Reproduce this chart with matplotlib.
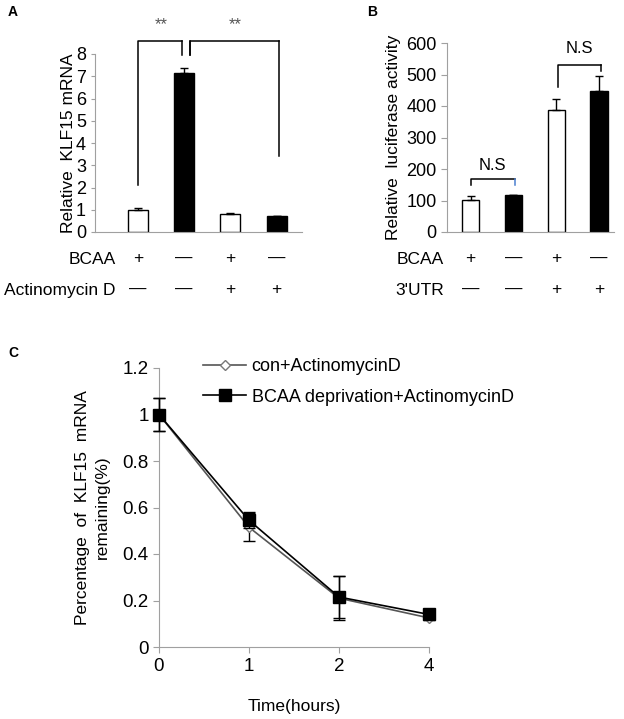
import matplotlib
matplotlib.use("Agg")
import matplotlib.pyplot as plt
from matplotlib.lines import Line2D
import numpy as np

plt.rcParams['font.family'] = ['Liberation Sans', 'DejaVu Sans']

# ---- data ----
a_vals = [1.0, 7.15, 0.82, 0.70]
a_err = [0.09, 0.2, 0.04, 0.0]
a_fill = ['white', 'black', 'white', 'black']
a_row1 = ['+', '—', '+', '—']
a_row2 = ['—', '—', '+', '+']
a_yticks = [0, 1, 2, 3, 4, 5, 6, 7, 8]

b_vals = [103, 117, 388, 448]
b_err = [12, 0, 35, 48]
b_fill = ['white', 'black', 'white', 'black']
b_row1 = ['+', '—', '+', '—']
b_row2 = ['—', '—', '+', '+']
b_yticks = [0, 100, 200, 300, 400, 500, 600]

c_time_labels = ['0', '1', '2', '4']
c_con = [1.0, 0.515, 0.21, 0.125]
c_con_err = [0.07, 0.06, 0.095, 0.01]
c_bcaa = [1.0, 0.545, 0.215, 0.14]
c_bcaa_err = [0.07, 0.035, 0.09, 0.01]
c_yticks = [0, 0.2, 0.4, 0.6, 0.8, 1.0, 1.2]
c_yticklabels = ['0', '0.2', '0.4', '0.6', '0.8', '1', '1.2']

W, H = 624, 719
fig = plt.figure(figsize=(W / 100, H / 100), dpi=100)

def ax_px(l, r, b, t):
    return fig.add_axes([l / W, (H - b) / H, (r - l) / W, (b - t) / H])

FS = 12.5
grey = '#a0a0a0'

def style_bar_axes(ax):
    for s in ['top', 'right']:
        ax.spines[s].set_visible(False)
    ax.spines['left'].set_color(grey)
    ax.spines['bottom'].set_color(grey)
    ax.tick_params(axis='y', colors=grey, labelcolor='black', labelsize=FS + 0.5, length=3, direction='out')
    ax.tick_params(axis='x', length=0, labelbottom=False)

def bracket(ax, x1, x2, y, y1, y2, color='black', c2=None):
    ax.plot([x1, x1, x2], [y1, y, y], color=color, lw=1.1, clip_on=False)
    ax.plot([x2, x2], [y, y2], color=c2 if c2 else color, lw=1.1, clip_on=False)

# ---- Panel A ----
axA = ax_px(95, 302, 232, 54)
xa = np.arange(len(a_vals))
axA.bar(xa, a_vals, width=0.43, color=a_fill, edgecolor='black', linewidth=1.0,
        yerr=[[0] * 4, a_err], capsize=3, error_kw=dict(elinewidth=1, capthick=1))
axA.set_xlim(-0.93, 3.55)
axA.set_ylim(0, 8)
axA.set_yticks(a_yticks)
style_bar_axes(axA)
axA.set_ylabel('Relative  KLF15 mRNA', fontsize=FS, labelpad=0)
bracket(axA, 0, 0.95, 8.58, 2.1, 7.95)
bracket(axA, 1.12, 3.05, 8.58, 7.95, 3.4)
axA.plot([1.12, 1.12], [8.58, 7.95], color='black', lw=1.1, clip_on=False)
axA.text(0.5, 9.3, '**', ha='center', va='center', fontsize=12, color='#555555')
axA.text(2.1, 9.3, '**', ha='center', va='center', fontsize=12, color='#555555')
for i in range(4):
    axA.text(xa[i], -1.2, a_row1[i], ha='center', va='center', fontsize=FS, clip_on=False)
    axA.text(xa[i], -2.6, a_row2[i], ha='center', va='center', fontsize=FS, clip_on=False)
fig.text(116 / W, 1 - 259 / H, 'BCAA', ha='right', va='center', fontsize=FS)
fig.text(116 / W, 1 - 290 / H, 'Actinomycin D', ha='right', va='center', fontsize=FS)

# ---- Panel B ----
axB = ax_px(447, 614, 232, 43)
xb = np.arange(len(b_vals))
axB.bar(xb, b_vals, width=0.4, color=b_fill, edgecolor='black', linewidth=1.0,
        yerr=[[0] * 4, b_err], capsize=3, error_kw=dict(elinewidth=1, capthick=1))
axB.set_xlim(-0.55, 3.35)
axB.set_ylim(0, 600)
axB.set_yticks(b_yticks)
style_bar_axes(axB)
axB.tick_params(axis='y', length=4)
axB.set_ylabel('Relative  luciferase activity', fontsize=FS, labelpad=4)
bracket(axB, 0.0, 1.03, 168, 149, 149, c2='#4a7fd0')
bracket(axB, 2.05, 3.05, 530, 460, 511)
axB.text(0.5, 210, 'N.S', ha='center', va='center', fontsize=FS - 0.5)
axB.text(2.55, 581, 'N.S', ha='center', va='center', fontsize=FS - 0.5)
for i in range(4):
    axB.text(xb[i], -85, b_row1[i], ha='center', va='center', fontsize=FS, clip_on=False)
    axB.text(xb[i], -183, b_row2[i], ha='center', va='center', fontsize=FS, clip_on=False)
fig.text(444 / W, 1 - 259 / H, 'BCAA', ha='right', va='center', fontsize=FS)
fig.text(444 / W, 1 - 290 / H, "3'UTR", ha='right', va='center', fontsize=FS)

# ---- Panel C ----
axC = ax_px(159, 429, 647, 368)
xc = np.arange(len(c_time_labels))
axC.errorbar(xc, c_con, yerr=c_con_err, color='#555555', lw=1.2, marker='D', ms=5,
             mfc='white', mec='#777777', capsize=4, ecolor='black', elinewidth=1,
             clip_on=False, zorder=3)
axC.errorbar(xc, c_bcaa, yerr=c_bcaa_err, color='black', lw=1.2, marker='s', ms=8,
             mfc='black', mec='black', capsize=4, ecolor='black', elinewidth=1,
             clip_on=False, zorder=4)
axC.set_xlim(0, 3)
axC.set_ylim(0, 1.2)
axC.set_xticks(xc)
axC.set_xticklabels(c_time_labels)
axC.set_yticks(c_yticks)
axC.set_yticklabels(c_yticklabels)
for s in ['top', 'right']:
    axC.spines[s].set_visible(False)
axC.spines['left'].set_color(grey)
axC.spines['bottom'].set_color(grey)
axC.tick_params(axis='both', colors=grey, labelcolor='black', labelsize=FS + 1, length=4, direction='out')
axC.tick_params(axis='x', pad=4)
axC.set_ylabel('Percentage  of  KLF15  mRNA\nremaining(%)', fontsize=FS, labelpad=9, linespacing=1.4)
axC.set_xlabel('Time(hours)', fontsize=FS)
axC.xaxis.set_label_coords(0.5, -(699 - 647) / 279)
handles = [
    Line2D([], [], color='#555555', lw=1.2, marker='D', ms=5, mfc='white', mec='#777777'),
    Line2D([], [], color='black', lw=1.2, marker='s', ms=8, mfc='black', mec='black'),
]
axC.legend(handles, ['con+ActinomycinD', 'BCAA deprivation+ActinomycinD'],
           loc='upper left', bbox_to_anchor=(203 / W, 1 - 358 / H), bbox_transform=fig.transFigure,
           frameon=False, fontsize=FS + 0.5, handlelength=2.4, handletextpad=0.3,
           labelspacing=0.75, borderaxespad=0, borderpad=0)

# ---- panel letters ----
fig.text(8 / W, 1 - 12 / H, 'A', fontsize=10, fontweight='bold', va='center')
fig.text(367 / W, 1 - 12 / H, 'B', fontsize=10, fontweight='bold', va='center')
fig.text(8 / W, 1 - 353 / H, 'C', fontsize=10, fontweight='bold', va='center')

fig.savefig('out.png', dpi=100)
